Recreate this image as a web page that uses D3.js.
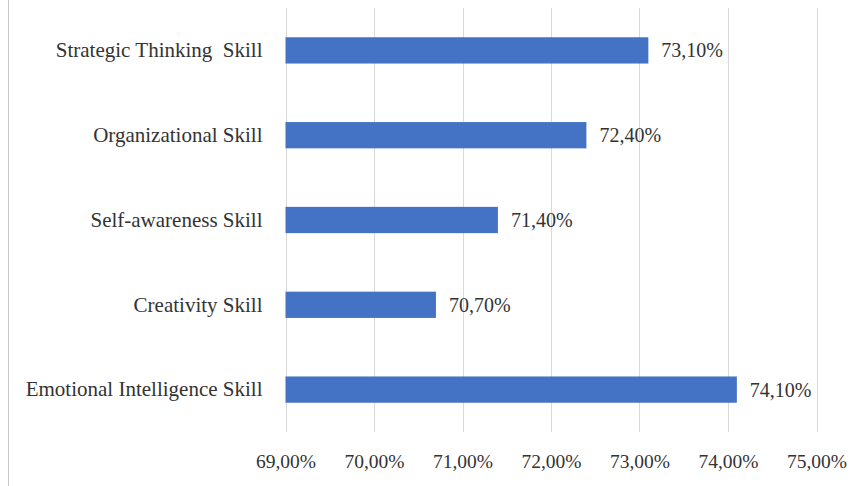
<!DOCTYPE html>
<html>
<head>
<meta charset="utf-8">
<script src="https://cdn.jsdelivr.net/npm/d3@7"></script>
<style>
  html, body { margin: 0; padding: 0; background: #fff; }
  svg text { font-family: "Liberation Serif", "DejaVu Serif", serif; fill: #333333; }
</style>
</head>
<body>
<svg id="chart" width="866" height="486"></svg>
<script>
const categories = [
  "Strategic Thinking  Skill",
  "Organizational Skill",
  "Self-awareness Skill",
  "Creativity Skill",
  "Emotional Intelligence Skill"
];
const values = [73.1, 72.4, 71.4, 70.7, 74.1];
const tickValues = [69, 70, 71, 72, 73, 74, 75];

const fmt = v => v.toFixed(2).replace(".", ",") + "%";

const svg = d3.select("#chart");
const margin = { top: 8, right: 49.5, bottom: 54, left: 285.5 };
const W = 866, H = 486;

const x = d3.scaleLinear()
  .domain([69, 75])
  .range([margin.left, W - margin.right]);

const y = d3.scaleBand()
  .domain(categories)
  .range([margin.top, H - margin.bottom])
  .paddingInner(0.69)
  .paddingOuter(0.345);

// outer frame line on the left
svg.append("line")
  .attr("x1", 8.5).attr("x2", 8.5)
  .attr("y1", 0).attr("y2", H)
  .attr("stroke", "#c8c8c8").attr("stroke-width", 1);

// vertical gridlines
svg.append("g")
  .selectAll("line")
  .data(tickValues)
  .join("line")
  .attr("x1", d => Math.round(x(d)) + 0.5)
  .attr("x2", d => Math.round(x(d)) + 0.5)
  .attr("y1", margin.top)
  .attr("y2", H - margin.bottom)
  .attr("stroke", "#d9d9d9")
  .attr("stroke-width", 1);

// x axis tick labels
const xAxis = d3.axisBottom(x)
  .tickValues(tickValues)
  .tickFormat(d => fmt(d))
  .tickSize(0)
  .tickPadding(0);

const gx = svg.append("g")
  .attr("transform", `translate(0,${H - margin.bottom})`)
  .call(xAxis);
gx.select(".domain").remove();
gx.selectAll("text")
  .attr("y", 36)
  .attr("dy", null)
  .style("font-size", "19.5px")
  .style("fill", "#333333");

// y axis category labels
const yAxis = d3.axisLeft(y).tickSize(0).tickPadding(23);
const gy = svg.append("g")
  .attr("transform", `translate(${margin.left},0)`)
  .call(yAxis);
gy.select(".domain").remove();
gy.selectAll("text")
  .style("font-size", "21px")
  .style("fill", "#333333")
  .style("white-space", "pre")
  .attr("xml:space", "preserve");

// bars
svg.append("g")
  .selectAll("rect")
  .data(values)
  .join("rect")
  .attr("x", x(69))
  .attr("y", (d, i) => y(categories[i]))
  .attr("width", d => x(d) - x(69))
  .attr("height", y.bandwidth())
  .attr("fill", "#4472C4");

// value labels
svg.append("g")
  .selectAll("text")
  .data(values)
  .join("text")
  .attr("x", d => x(d) + 13)
  .attr("y", (d, i) => y(categories[i]) + y.bandwidth() / 2)
  .attr("dy", "0.35em")
  .style("font-size", "20px")
  .text(d => fmt(d));
</script>
</body>
</html>
